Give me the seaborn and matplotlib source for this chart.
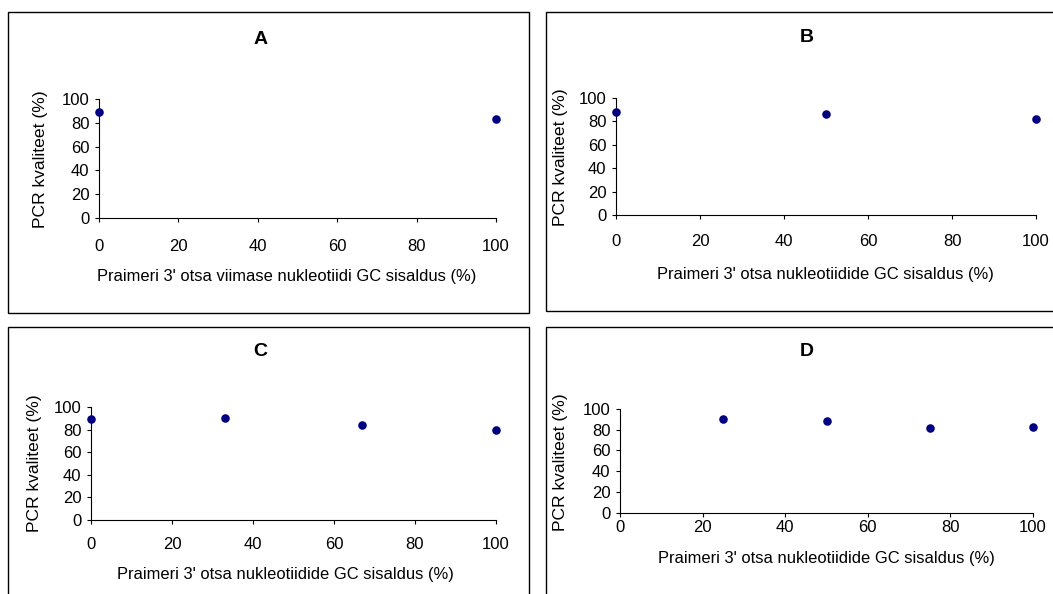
import matplotlib
matplotlib.use("Agg")
import matplotlib.pyplot as plt
from matplotlib.patches import Rectangle
import seaborn as sns
import pandas as pd

# ---- data ----
gc_A = [0, 100]
pcr_A = [89, 83]
gc_B = [0, 50, 100]
pcr_B = [88, 86, 82]
gc_C = [0, 33, 67, 100]
pcr_C = [89, 90, 84, 80]
gc_D = [25, 50, 75, 100]
pcr_D = [90.5, 88, 82, 83]

titles = ["A", "B", "C", "D"]
xlabels = [
    "Praimeri 3' otsa viimase nukleotiidi GC sisaldus (%)",
    "Praimeri 3' otsa nukleotiidide GC sisaldus (%)",
    "Praimeri 3' otsa nukleotiidide GC sisaldus (%)",
    "Praimeri 3' otsa nukleotiidide GC sisaldus (%)",
]
ylabel = "PCR kvaliteet (%)"
ticks = [0, 20, 40, 60, 80, 100]

sns.set_style("ticks")
plt.rcParams["font.family"] = ["Liberation Sans", "DejaVu Sans"]

W, H, DPI = 1053, 594, 100
fig = plt.figure(figsize=(W / DPI, H / DPI), dpi=DPI)
fig.patch.set_facecolor("white")

# layout in pixels: box (l, t, r, b), axes (x0, x1, ytop, ybot), title (x, y), xlabel (x, y), ylabel (x, y), tick pad pt
layout = [
    dict(box=(8, 12, 529, 313), ax=(99, 496, 99, 218), title=(261, 39), xl=(287, 277), yl=(40, 159), pad=12.3),
    dict(box=(546, 12, 1060, 311), ax=(616, 1036, 97.7, 215.3), title=(807, 38), xl=(825, 275), yl=(560, 157), pad=10.7),
    dict(box=(8, 327, 529, 600), ax=(91, 496, 407, 520), title=(260, 352), xl=(285, 575), yl=(35, 463), pad=9.4),
    dict(box=(546, 327, 1060, 600), ax=(620, 1033, 409, 512.7), title=(807, 352), xl=(826, 558), yl=(560, 462), pad=2.5),
]
data = [(gc_A, pcr_A), (gc_B, pcr_B), (gc_C, pcr_C), (gc_D, pcr_D)]

FS_TICK = 12
FS_XL = 11.9
FS_YL = 12.6
for i, (lay, (xs, ys)) in enumerate(zip(layout, data)):
    l, t, r, b = lay["box"]
    fig.patches.append(Rectangle((l / W, 1 - b / H), (r - l) / W, (b - t) / H,
                                 transform=fig.transFigure, fill=False,
                                 edgecolor="black", linewidth=1.0, zorder=0))
    x0, x1, yt, yb = lay["ax"]
    ax = fig.add_axes([x0 / W, 1 - yb / H, (x1 - x0) / W, (yb - yt) / H])
    ax.set_facecolor("none")
    df = pd.DataFrame({"gc": xs, "pcr": ys})
    sns.scatterplot(data=df, x="gc", y="pcr", ax=ax, color="#000080", s=38,
                    linewidth=0, clip_on=False, zorder=5)
    ax.set_xlim(0, 100)
    ax.set_ylim(0, 100)
    ax.set_xticks(ticks)
    ax.set_yticks(ticks)
    for sp in ["top", "right"]:
        ax.spines[sp].set_visible(False)
    for sp in ["left", "bottom"]:
        ax.spines[sp].set_linewidth(0.8)
        ax.spines[sp].set_color("black")
    ax.tick_params(axis="x", direction="out", length=3, width=0.8, pad=lay["pad"],
                   labelsize=FS_TICK, colors="black")
    ax.tick_params(axis="y", direction="out", length=3, width=0.8, pad=4,
                   labelsize=FS_TICK, colors="black")
    ax.set_xlabel(xlabels[i], fontsize=FS_XL, color="black")
    ax.set_ylabel(ylabel, fontsize=FS_YL, color="black")
    xlx, xly = lay["xl"]
    ax.xaxis.set_label_coords((xlx - x0) / (x1 - x0), (yb - xly) / (yb - yt))
    ax.xaxis.label.set_va("center")
    ylx, yly = lay["yl"]
    ax.yaxis.set_label_coords((ylx - x0) / (x1 - x0), (yb - yly) / (yb - yt))
    ax.yaxis.label.set_va("center")
    tx, ty = lay["title"]
    fig.text(tx / W, 1 - ty / H, titles[i], ha="center", va="center",
             fontsize=14, fontweight="bold", color="black")

fig.savefig("out.png", dpi=DPI, facecolor="white")
